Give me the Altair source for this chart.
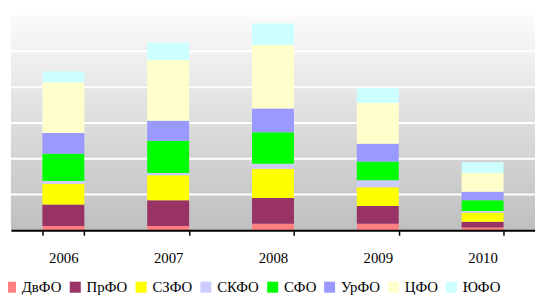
import altair as alt
import pandas as pd

years = ["2006", "2007", "2008", "2009", "2010"]
districts = ["ДвФО", "ПрФО", "СЗФО", "СКФО", "СФО", "УрФО", "ЦФО", "ЮФО"]
colors = ["#FF8080", "#993366", "#FFFF00", "#CCCCFF", "#00FF00", "#9999FF", "#FFFFCC", "#CCFFFF"]

dvfo = [6, 6, 9, 9, 4]
prfo = [30, 36, 36, 25, 8]
szfo = [29, 35, 41, 26, 13]
skfo = [4, 3, 7, 10, 2]
sfo = [38, 45, 44, 26, 15]
urfo = [29, 28, 33, 25, 12]
cfo = [71, 85, 89, 57, 26]
yufo = [15, 24, 30, 21, 15]

grid_values = [50, 100, 150, 200, 250]

series = [dvfo, prfo, szfo, skfo, sfo, urfo, cfo, yufo]
rows = []
for i, (d, vals) in enumerate(zip(districts, series)):
    for y, v in zip(years, vals):
        rows.append({"year": y, "district": d, "value": v, "idx": i})
df = pd.DataFrame(rows)

W, H = 532, 218
ydom = [0, 300]
FONT = "'Liberation Serif', 'Times New Roman', serif"

bg = alt.Chart(alt.Data(values=[{"a": 1}])).mark_rect(
    fill=alt.LinearGradient(
        gradient="linear", x1=0, y1=0, x2=0, y2=1,
        stops=[alt.GradientStop(offset=0, color="#fbfbfb"),
               alt.GradientStop(offset=1, color="#bfbfbf")],
    )
).encode(x=alt.value(0), x2=alt.value(W), y=alt.value(0), y2=alt.value(H))

grid = alt.Chart(pd.DataFrame({"v": grid_values})).mark_rule(
    color="white", strokeWidth=2
).encode(y=alt.Y("v:Q", scale=alt.Scale(domain=ydom), axis=None))

bars = alt.Chart(df).mark_bar().encode(
    x=alt.X("year:N", sort=years,
            scale=alt.Scale(paddingInner=0.6, paddingOuter=0.3),
            axis=alt.Axis(title=None, labelAngle=0, domainColor="black", domainWidth=2,
                          tickColor="black", tickWidth=1.5, tickSize=5, tickBand="extent",
                          labelFont=FONT, labelFontSize=15, labelColor="black",
                          labelPadding=16, zindex=1, grid=False)),
    y=alt.Y("value:Q", stack="zero", scale=alt.Scale(domain=ydom), axis=None),
    color=alt.Color("district:N", scale=alt.Scale(domain=districts, range=colors),
                    legend=alt.Legend(orient="none", legendX=-8, legendY=268, direction="horizontal",
                                      columns=8, symbolType="square", symbolSize=125,
                                      symbolStrokeWidth=0, labelFont=FONT,
                                      labelFontSize=15, labelColor="black", columnPadding=5.8,
                                      labelOffset=4, title=None)),
    order=alt.Order("idx:Q"),
)

chart = alt.layer(bg, grid, bars).properties(
    width=W, height=H,
    autosize=alt.AutoSizeParams(type="none"),
    padding={"left": 3, "top": 5.5, "right": 0, "bottom": 64},
    background="white",
).configure_view(stroke=None)

chart.save("out.html", embed_options={"renderer": "svg", "actions": False})
